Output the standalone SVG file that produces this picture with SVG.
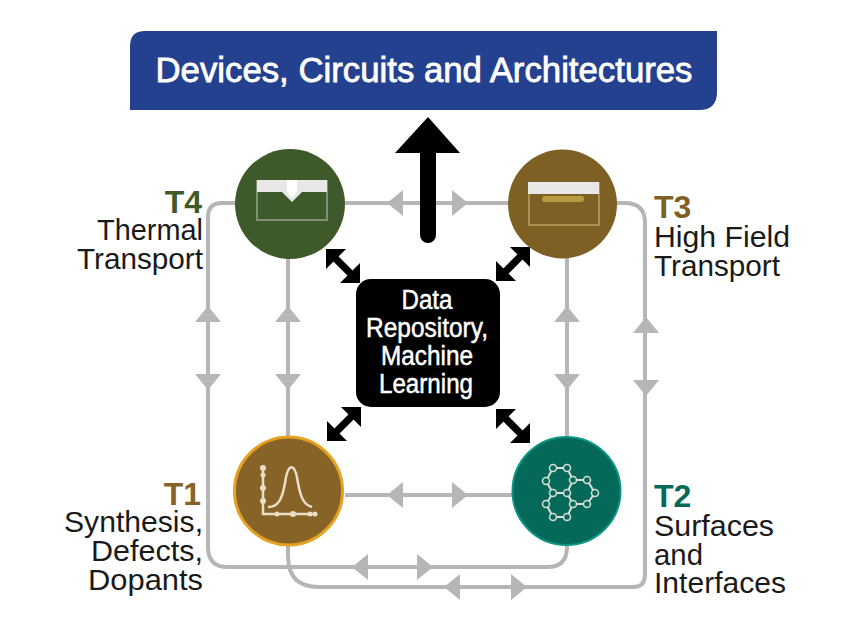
<svg xmlns="http://www.w3.org/2000/svg" width="865" height="630" viewBox="0 0 865 630">
<style>
text{font-family:"Liberation Sans",Arial,sans-serif}
.lbl{font-size:29.500px;fill:#1a1a1a}
.t{font-size:32px;font-weight:bold}
.c{fill:none;stroke:#b5b6b8;stroke-width:4}
.h{fill:#b5b6b8}
.ic{fill:none;stroke:#e8dfc6;stroke-width:2.500}
.d{font-size:27px;fill:#fff;stroke:#fff;stroke-width:.5;text-anchor:middle}
</style>
<defs>
<path id="up" d="M-13 8L0-8L13 8Z" class="h"/>
<path id="rt" d="M-8-13L8 0L-8 13Z" class="h"/>
<path id="bb" d="M-17-17H3L-17 3ZM17 17H-3L17-3ZM-10.600-5.400L-5.400-10.600L10.600 5.400L5.400 10.600Z" fill="#000"/>
</defs>
<g id="connectors">
<path class="c" d="M236 203H222Q208 203 208 217V547Q208 567 228 567H547Q567 567 567 547V258"/>
<path class="c" d="M288 258V556Q288 587 319 587H633Q645 587 645 575V223Q645 203 625 203H617"/>
<path class="c" d="M345 203H510"/>
<path class="c" d="M345 495H512"/>
<use href="#up" x="208" y="314"/><use href="#up" transform="translate(208 382) rotate(180)"/>
<use href="#up" x="288" y="314"/><use href="#up" transform="translate(288 382) rotate(180)"/>
<use href="#up" x="567" y="314"/><use href="#up" transform="translate(567 382) rotate(180)"/>
<use href="#up" x="646" y="325"/><use href="#up" transform="translate(646 388) rotate(180)"/>
<use href="#rt" transform="translate(395 203) rotate(180)"/><use href="#rt" x="460" y="203"/>
<use href="#rt" transform="translate(395 495) rotate(180)"/><use href="#rt" x="460" y="495"/>
<use href="#rt" transform="translate(360 567) rotate(180)"/><use href="#rt" x="425" y="567"/>
<use href="#rt" transform="translate(452 587) rotate(180)"/><use href="#rt" x="519" y="587"/>
<path d="M428 235V148" fill="none" stroke="#000" stroke-width="16" stroke-linecap="round"/>
<path d="M395 153L428 117L460 153Z" fill="#000"/>
<use href="#bb" transform="translate(343 266)"/>
<use href="#bb" transform="translate(513 264) rotate(90)"/>
<use href="#bb" transform="translate(344 424) rotate(90)"/>
<use href="#bb" transform="translate(513 426)"/>
</g>
<g id="title">
<path d="M145 31H717V92Q717 110 699 110H130V46Q130 31 145 31Z" fill="#24418f"/>
<text x="424" y="82" text-anchor="middle" font-size="35" fill="#fff" stroke="#fff" stroke-width=".8" textLength="537" lengthAdjust="spacingAndGlyphs">Devices, Circuits and Architectures</text>
</g>
<g id="data">
<rect x="356" y="279" width="144" height="128" rx="15" fill="#000"/>
<text class="d" x="427" y="309" textLength="51" lengthAdjust="spacingAndGlyphs">Data</text>
<text class="d" x="427" y="337" textLength="122" lengthAdjust="spacingAndGlyphs">Repository,</text>
<text class="d" x="427" y="365" textLength="92" lengthAdjust="spacingAndGlyphs">Machine</text>
<text class="d" x="426" y="393" textLength="94" lengthAdjust="spacingAndGlyphs">Learning</text>
</g>
<g id="t4">
<circle cx="290" cy="204" r="55" fill="#3e5a2b"/>
<path d="M257 181H327V220H257Z" fill="none" stroke="#7f9270" stroke-width="2"/>
<path d="M257 180H327V192H302L292 202L282 192H257Z" fill="#e8e8e8"/>
<path d="M287 180H297V192L292 198L287 192Z" fill="#fff"/>
<text class="t" x="202" y="213" text-anchor="end" fill="#3e5a2b">T4</text>
<text class="lbl" x="203" y="240" text-anchor="end" textLength="106" lengthAdjust="spacingAndGlyphs">Thermal</text>
<text class="lbl" x="203" y="269" text-anchor="end" textLength="126" lengthAdjust="spacingAndGlyphs">Transport</text>
</g>
<g id="t3">
<circle cx="562.500" cy="204" r="54.500" fill="#7e5f24"/>
<path d="M529 183H599V225H529Z" fill="none" stroke="#a8924f" stroke-width="2"/>
<rect x="528" y="182" width="71" height="12" fill="#e8e8e8"/>
<rect x="542" y="196" width="42" height="6" rx="3" fill="#b89c42"/>
<text class="t" x="654" y="218" fill="#7e5f24">T3</text>
<text class="lbl" x="654" y="247" textLength="136" lengthAdjust="spacingAndGlyphs">High Field</text>
<text class="lbl" x="654" y="276" textLength="126" lengthAdjust="spacingAndGlyphs">Transport</text>
</g>
<g id="t1">
<circle cx="288.500" cy="491" r="54" fill="#876328" stroke="#e5a121" stroke-width="3"/>
<path class="ic" d="M263 468V514H317M268 507C278 507 282 500 285 483C288 462 295 462 298 483C301 500 305 505 312 507"/>
<g fill="#e8dfc6"><circle cx="263" cy="468" r="3"/><circle cx="263" cy="475" r="2.500"/><circle cx="263" cy="488" r="3"/><circle cx="263" cy="501" r="3"/><circle cx="277" cy="514" r="2.500"/><circle cx="293" cy="514" r="3"/><circle cx="310" cy="514" r="2.500"/><circle cx="315" cy="514" r="2.500"/></g>
<text class="t" x="201" y="505" text-anchor="end" fill="#876328">T1</text>
<text class="lbl" x="203" y="532" text-anchor="end" textLength="139" lengthAdjust="spacingAndGlyphs">Synthesis,</text>
<text class="lbl" x="203" y="561" text-anchor="end" textLength="112" lengthAdjust="spacingAndGlyphs">Defects,</text>
<text class="lbl" x="203" y="590" text-anchor="end" textLength="115" lengthAdjust="spacingAndGlyphs">Dopants</text>
</g>
<g id="t2">
<circle cx="566.500" cy="491" r="54" fill="#05695a" stroke="#0b9583" stroke-width="2"/>
<path class="ic" d="M553 468H567L573 480L567 493H553L546 481ZM567 493L573 480H587L595 493L587 504H573ZM553 493H567L573 504L567 517H553L546 504Z" style="stroke:#d8e0d8;stroke-width:2"/>
<g fill="#05695a" stroke="#d8e0d8" stroke-width="1.500"><circle cx="553" cy="468" r="3.500"/><circle cx="567" cy="468" r="3.500"/><circle cx="546" cy="481" r="3.500"/><circle cx="573" cy="480" r="3.500"/><circle cx="587" cy="480" r="3.500"/><circle cx="553" cy="493" r="3.500"/><circle cx="567" cy="493" r="3.500"/><circle cx="595" cy="493" r="3.500"/><circle cx="573" cy="504" r="3.500"/><circle cx="587" cy="504" r="3.500"/><circle cx="546" cy="504" r="3.500"/><circle cx="553" cy="517" r="3.500"/><circle cx="567" cy="517" r="3.500"/></g>
<text class="t" x="654" y="507" fill="#05695a">T2</text>
<text class="lbl" x="654" y="536" textLength="120" lengthAdjust="spacingAndGlyphs">Surfaces</text>
<text class="lbl" x="654" y="565" textLength="49" lengthAdjust="spacingAndGlyphs">and</text>
<text class="lbl" x="654" y="593" textLength="132" lengthAdjust="spacingAndGlyphs">Interfaces</text>
</g>
</svg>
